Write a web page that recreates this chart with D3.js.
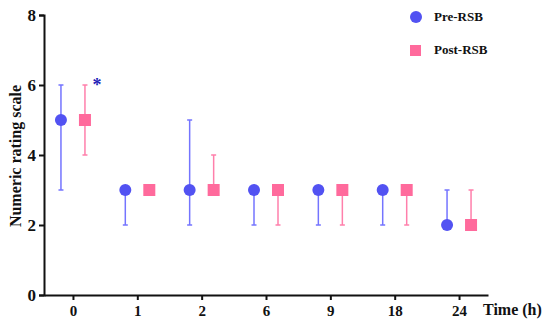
<!DOCTYPE html>
<meta charset="utf-8">
<title>NRS</title>
<style>
body { margin: 0; background: #fff; }
text { font-family: "Liberation Serif", "Times New Roman", serif; font-weight: bold; fill: #111; }
.axis path, .axis line { stroke: #111; stroke-width: 2px; }
</style>
<svg></svg>
<script src="https://cdn.jsdelivr.net/npm/d3@7/dist/d3.min.js"></script>
<script>
var times = ["0", "1", "2", "6", "9", "18", "24"];
var preMedian = [5, 3, 3, 3, 3, 3, 2];
var preLow = [3, 2, 2, 2, 2, 2, 2];
var preHigh = [6, 3, 5, 3, 3, 3, 3];
var postMedian = [5, 3, 3, 3, 3, 3, 2];
var postLow = [4, 3, 3, 2, 2, 2, 2];
var postHigh = [6, 3, 4, 3, 3, 3, 3];
var yTicks = [0, 2, 4, 6, 8];

var width = 550, height = 327;
var svg = d3.select("svg").attr("width", width).attr("height", height);

var x = d3.scalePoint().domain(times).range([44, 488]).padding(0.45);
var y = d3.scaleLinear().domain([0, 8]).range([295, 15]);

var series = [
  { name: "Pre-RSB", med: preMedian, lo: preLow, hi: preHigh, dx: -12, fill: "#5252f2", bar: "#7474ff", shape: "circle" },
  { name: "Post-RSB", med: postMedian, lo: postLow, hi: postHigh, dx: 12, fill: "#ff6a9c", bar: "#ff7fab", shape: "square" }
];

// axes
svg.append("g").attr("class", "axis")
    .attr("transform", "translate(44,0)")
    .call(d3.axisLeft(y).tickValues(yTicks).tickSize(5).tickPadding(3))
    .call(function(g) { g.selectAll("text").style("font-size", "17px"); });
svg.append("g").attr("class", "axis")
    .attr("transform", "translate(0,295)")
    .call(d3.axisBottom(x).tickSize(5).tickSizeOuter(0).tickPadding(5))
    .call(function(g) { g.selectAll("text").style("font-size", "15px"); });

svg.append("text")
    .attr("transform", "translate(21,156) rotate(-90)")
    .attr("text-anchor", "middle")
    .style("font-size", "16px")
    .text("Numeric rating scale");
svg.append("text")
    .attr("x", 483).attr("y", 315)
    .style("font-size", "16px")
    .text("Time (h)");

series.forEach(function(s) {
  var g = svg.append("g");
  times.forEach(function(t, i) {
    var cx = x(t) + s.dx;
    if (s.hi[i] !== s.lo[i]) {
      g.append("line").attr("x1", cx).attr("x2", cx)
          .attr("y1", y(s.lo[i])).attr("y2", y(s.hi[i]))
          .attr("stroke", s.bar).attr("stroke-width", 1.5);
      [s.lo[i], s.hi[i]].forEach(function(v) {
        if (v === s.med[i]) return;
        g.append("line").attr("x1", cx - 2.5).attr("x2", cx + 2.5)
            .attr("y1", y(v)).attr("y2", y(v))
            .attr("stroke", s.bar).attr("stroke-width", 1.5);
      });
    }
    if (s.shape === "circle") {
      g.append("circle").attr("cx", cx).attr("cy", y(s.med[i])).attr("r", 6).attr("fill", s.fill);
    } else {
      g.append("rect").attr("x", cx - 6).attr("y", y(s.med[i]) - 6)
          .attr("width", 12).attr("height", 12).attr("fill", s.fill);
    }
  });
});

// significance mark
svg.append("text")
    .attr("x", x("0") + 24).attr("y", y(6) + 6)
    .attr("text-anchor", "middle")
    .style("font-size", "18px")
    .style("fill", "#1f1fb8")
    .text("*");

// legend
var legend = svg.append("g");
series.forEach(function(s, i) {
  var ly = 17 + i * 33;
  if (s.shape === "circle") {
    legend.append("circle").attr("cx", 416).attr("cy", ly).attr("r", 6).attr("fill", s.fill);
  } else {
    legend.append("rect").attr("x", 410).attr("y", ly - 5).attr("width", 11).attr("height", 11).attr("fill", s.fill);
  }
  legend.append("text").attr("x", 434).attr("y", ly + 4)
      .style("font-size", "13px")
      .text(s.name);
});
</script>
